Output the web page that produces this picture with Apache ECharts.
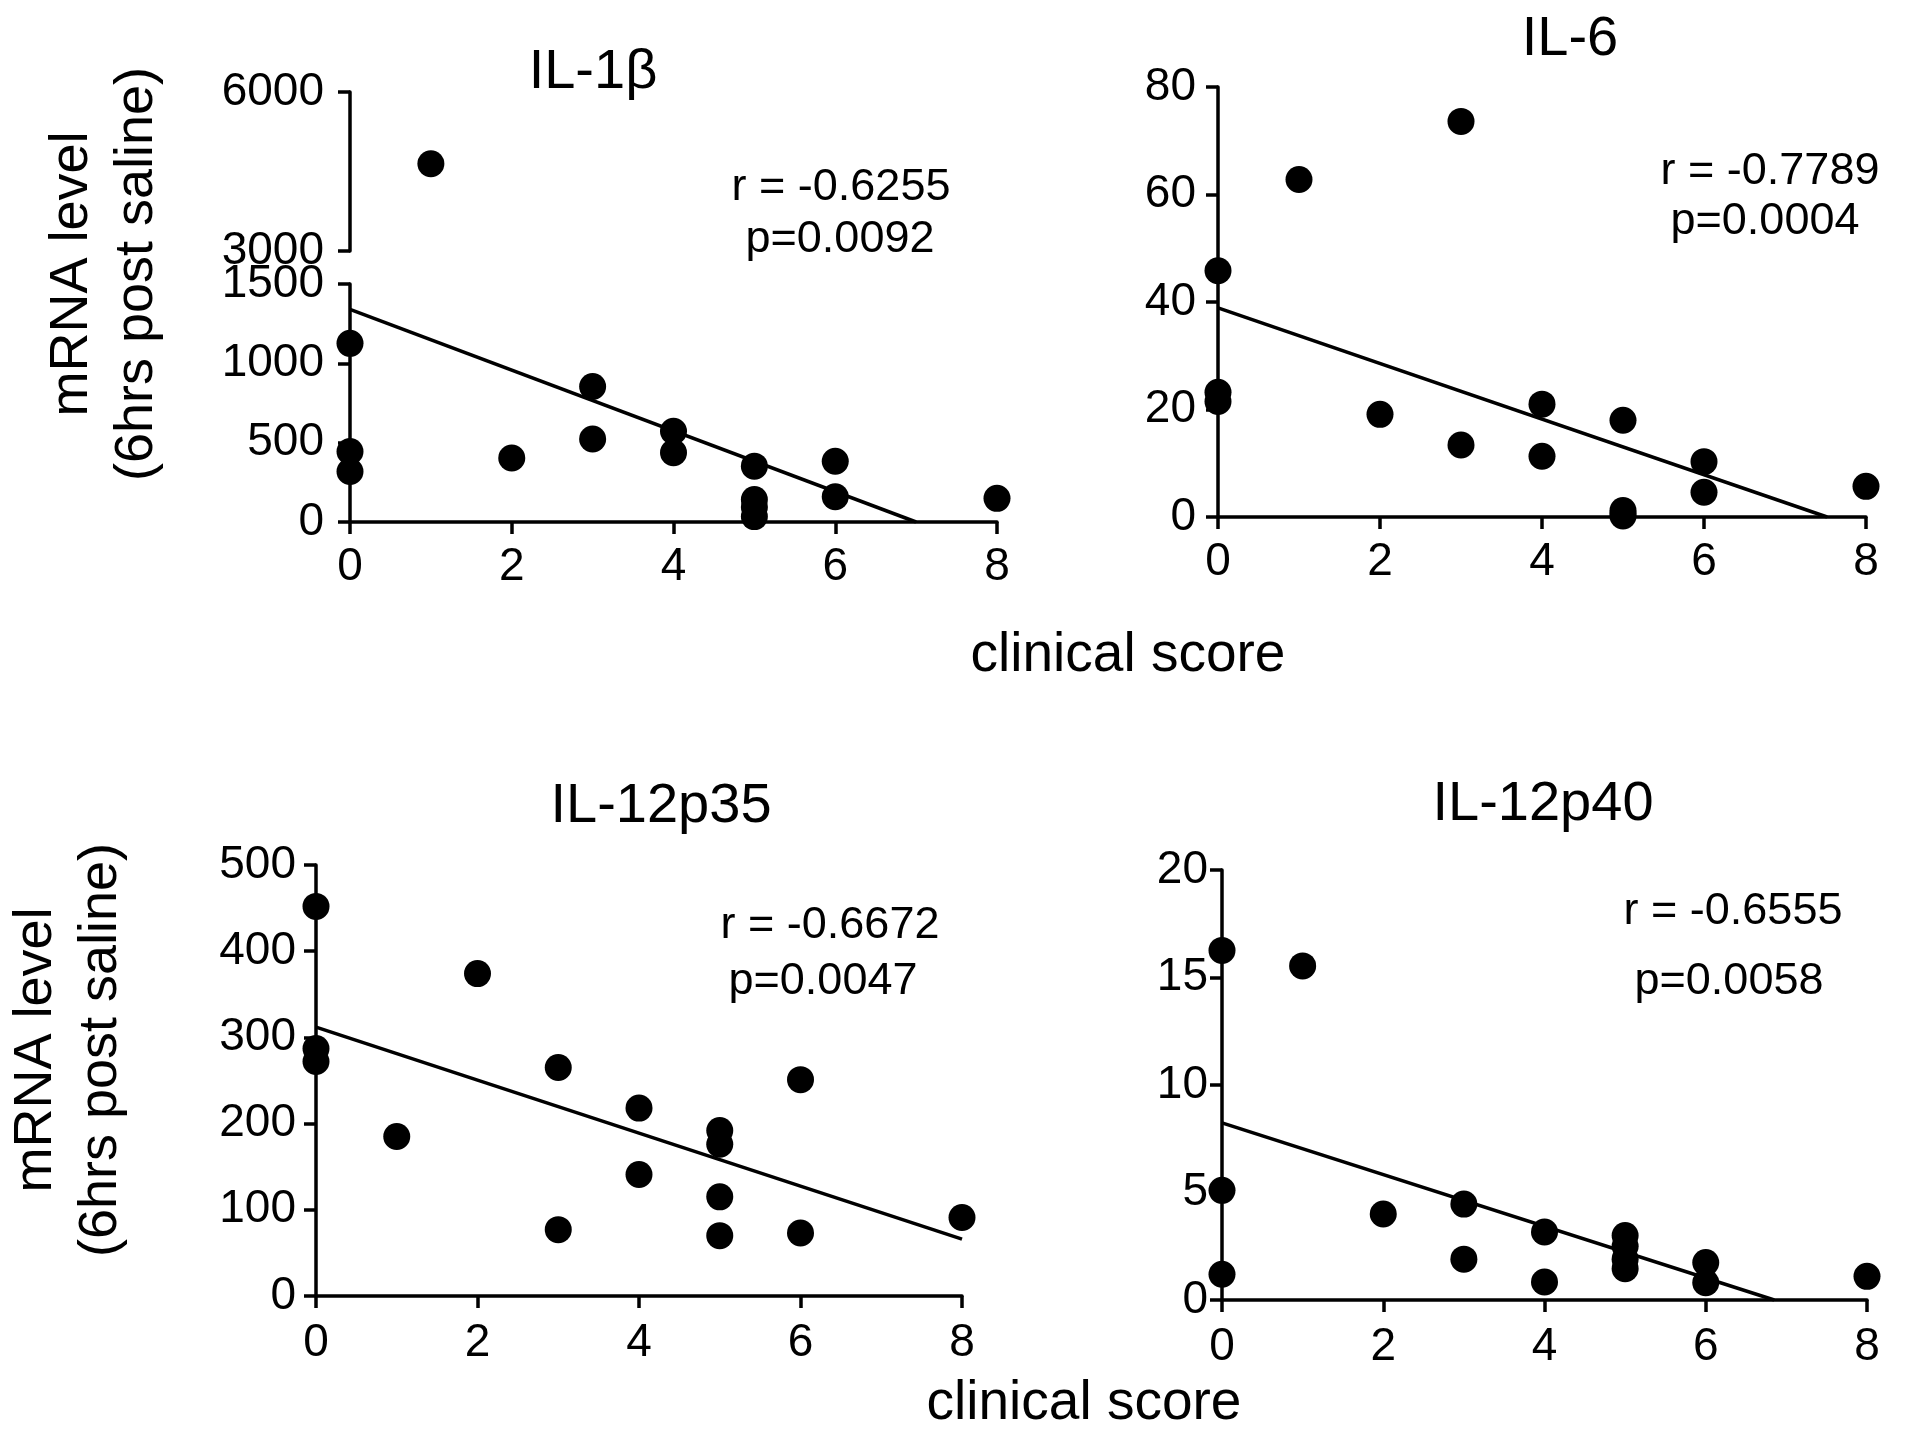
<!DOCTYPE html>
<html lang="en">
<head>
<meta charset="UTF-8">
<title>mRNA level vs clinical score</title>
<script src="https://cdn.jsdelivr.net/npm/echarts@6.0.0/dist/echarts.min.js"></script>
<style>
    html, body { margin: 0; padding: 0; background: #fff; }
    #main { width: 1916px; height: 1435px; }
</style>
</head>
<body>
<div id="main"></div>
<script>
var FONT = '"Liberation Sans", Arial, Helvetica, sans-serif';
var INK = '#000';

// labels
var panelTitles = ['IL-1β', 'IL-6', 'IL-12p35', 'IL-12p40'];
var rValues = ['r = -0.6255', 'r = -0.7789', 'r = -0.6672', 'r = -0.6555'];
var pValues = ['p=0.0092', 'p=0.0004', 'p=0.0047', 'p=0.0058'];
var xName = 'clinical score';
var yName = 'mRNA level\n(6hrs post saline)';

// IL-1b (axis broken between 1500 and 3000)
var il1bScore = [0, 0, 0, 1, 2, 3, 3, 4, 4, 5, 5, 5, 5, 6, 6, 8];
var il1bLevel = [1126, 444, 318, 4645, 403, 854, 523, 572, 437, 352, 142, 94, 34, 383, 159, 149];
var il1bFit = [[0, 1340], [7.0, 0]];

// IL-6
var il6Score = [0, 0, 0, 1, 2, 3, 3, 4, 4, 5, 5, 5, 5, 6, 6, 8];
var il6Level = [45.8, 23.2, 21.5, 62.8, 19.1, 73.6, 13.4, 21.0, 11.3, 18.0, 1.2, 0.6, 0.2, 10.3, 4.6, 5.7];
var il6Fit = [[0, 38.9], [7.52, 0]];

// IL-12p35
var p35Score = [0, 0, 0, 1, 2, 3, 3, 4, 4, 5, 5, 5, 5, 6, 6, 8];
var p35Level = [452, 287, 272, 185, 374, 265, 77, 218, 141, 192, 176, 115, 70, 251, 73, 91];
var p35Fit = [[0, 312], [8, 66]];

// IL-12p40
var p40Score = [0, 0, 0, 1, 2, 3, 3, 4, 4, 5, 5, 5, 5, 6, 6, 8];
var p40Level = [16.26, 5.1, 1.2, 15.54, 4.0, 4.46, 1.9, 3.16, 0.84, 3.0, 2.5, 1.9, 1.45, 1.74, 0.8, 1.1];
var p40Fit = [[0, 8.24], [6.85, 0]];

function pairs(xs, ys, keep) {
    var out = [];
    for (var i = 0; i < xs.length; i++) {
        if (!keep || keep(ys[i])) out.push([xs[i], ys[i]]);
    }
    return out;
}

function plain(v) { return String(v); }

function xAx(gi, show, margin) {
    return {
        gridIndex: gi, type: 'value', min: 0, max: 8, interval: 2, show: show,
        axisLine: { show: true, onZero: false, lineStyle: { color: INK, width: 3.5 } },
        axisTick: { show: true, length: 12, lineStyle: { color: INK, width: 3.5 } },
        axisLabel: { fontSize: 46, fontFamily: FONT, color: INK, margin: margin, formatter: plain },
        splitLine: { show: false }
    };
}

function yAx(gi, min, max, step, margin) {
    return {
        gridIndex: gi, type: 'value', min: min, max: max, interval: step,
        axisLine: { show: true, onZero: false, lineStyle: { color: INK, width: 3.5 } },
        axisTick: { show: true, length: 12, lineStyle: { color: INK, width: 3.5 } },
        axisLabel: { fontSize: 46, fontFamily: FONT, color: INK, margin: margin, formatter: plain },
        splitLine: { show: false }
    };
}

function dots(gi, data) {
    return {
        type: 'scatter', xAxisIndex: gi, yAxisIndex: gi, data: data,
        symbol: 'circle', symbolSize: 27, itemStyle: { color: INK, opacity: 1 }, silent: true
    };
}

function fit(gi, data) {
    return {
        type: 'line', xAxisIndex: gi, yAxisIndex: gi, data: data,
        symbol: 'none', lineStyle: { color: INK, width: 3.5 }, silent: true, z: 1
    };
}

function label(x, y, text, size, extra) {
    var el = {
        type: 'text', x: x, y: y,
        style: {
            text: text, fontSize: size, fontFamily: FONT, fill: INK,
            align: 'center', verticalAlign: 'middle',
            textAlign: 'center', textVerticalAlign: 'middle'
        }
    };
    if (extra) {
        for (var k in extra) {
            if (k === 'lineHeight') el.style.lineHeight = extra[k];
            else el[k] = extra[k];
        }
    }
    return el;
}

var chart = echarts.init(document.getElementById('main'));

var option = {
    backgroundColor: '#fff',
    animation: false,
    grid: [
        { left: 350, top: 284, width: 647, height: 238, outerBoundsMode: 'none' },   // IL-1b lower
        { left: 350, top: 92, width: 647, height: 159, outerBoundsMode: 'none' },    // IL-1b upper
        { left: 1218, top: 87, width: 648, height: 430, outerBoundsMode: 'none' },   // IL-6
        { left: 316, top: 865, width: 646, height: 431, outerBoundsMode: 'none' },   // IL-12p35
        { left: 1222, top: 870, width: 645, height: 430, outerBoundsMode: 'none' }   // IL-12p40
    ],
    xAxis: [
        xAx(0, true, 22),
        xAx(1, false, 22),
        xAx(2, true, 22),
        xAx(3, true, 24),
        xAx(4, true, 24)
    ],
    yAxis: [
        yAx(0, 0, 1500, 500, 26),
        yAx(1, 3000, 6000, 3000, 26),
        yAx(2, 0, 80, 20, 22),
        yAx(3, 0, 500, 100, 20),
        yAx(4, 0, 20, 5, 14)
    ],
    series: [
        fit(0, il1bFit),
        dots(0, pairs(il1bScore, il1bLevel, function (v) { return v <= 1500; })),
        dots(1, pairs(il1bScore, il1bLevel, function (v) { return v >= 3000; })),
        fit(2, il6Fit),
        dots(2, pairs(il6Score, il6Level)),
        fit(3, p35Fit),
        dots(3, pairs(p35Score, p35Level)),
        fit(4, p40Fit),
        dots(4, pairs(p40Score, p40Level))
    ],
    graphic: [
        label(593, 73, panelTitles[0], 56),
        label(1570, 40, panelTitles[1], 56),
        label(661, 807, panelTitles[2], 56),
        label(1543, 805, panelTitles[3], 56),

        label(841, 188, rValues[0], 45),
        label(840, 240, pValues[0], 45),
        label(1770, 172, rValues[1], 45),
        label(1765, 222, pValues[1], 45),
        label(830, 926, rValues[2], 45),
        label(823, 982, pValues[2], 45),
        label(1733, 912, rValues[3], 45),
        label(1729, 982, pValues[3], 45),

        label(1128, 656, xName, 55),
        label(1084, 1404, xName, 55),

        label(105, 274, yName, 54, { rotation: Math.PI / 2, lineHeight: 65 }),
        label(69, 1050, yName, 54, { rotation: Math.PI / 2, lineHeight: 65 })
    ]
};

chart.setOption(option);
</script>
</body>
</html>
